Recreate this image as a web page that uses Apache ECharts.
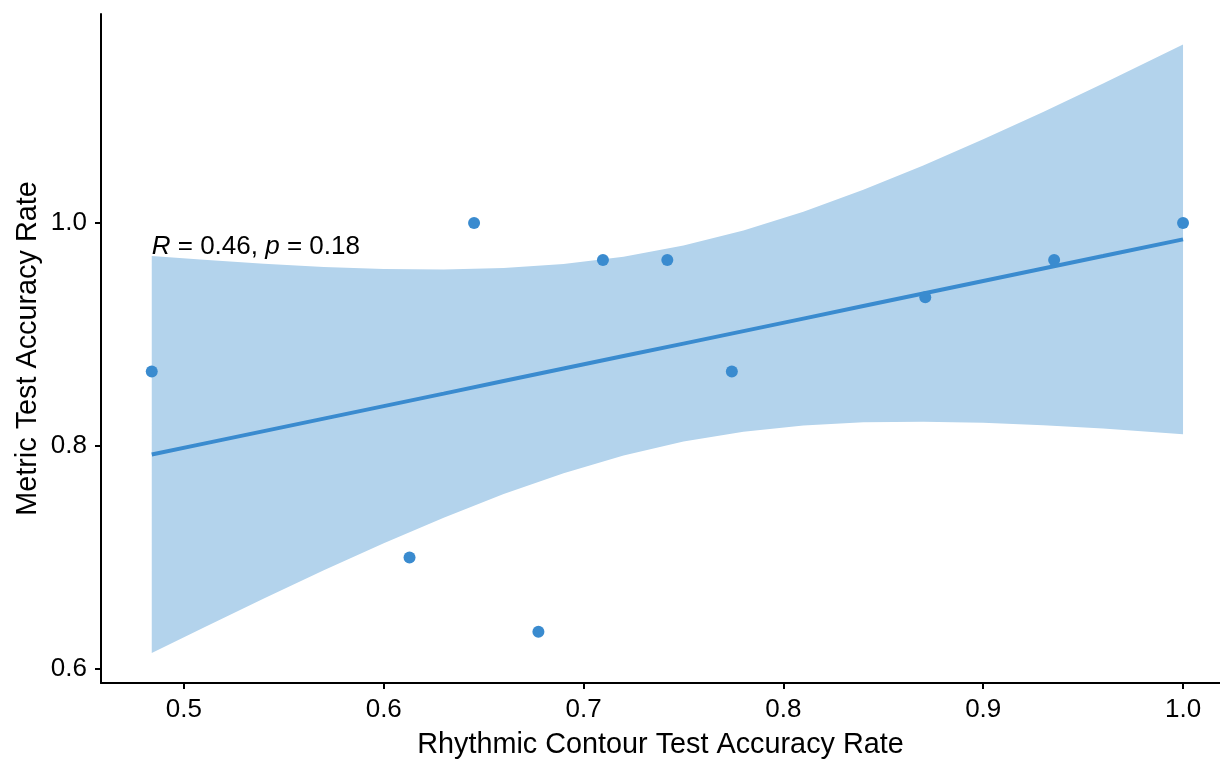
<!DOCTYPE html>
<html>
<head>
<meta charset="utf-8">
<script src="https://cdn.jsdelivr.net/npm/echarts@6/dist/echarts.min.js"></script>
<style>html,body{margin:0;padding:0;background:#fff}#chart{width:1220px;height:759px}</style>
</head>
<body>
<div id="chart"></div>
<script>
// Observed points (Rhythmic Contour vs Metric accuracy)
const pointX = [0.4839, 0.6129, 0.6452, 0.6774, 0.7097, 0.7419, 0.7742, 0.8710, 0.9355, 1.0];
const pointY = [0.8667, 0.7000, 1.0000, 0.6333, 0.9667, 0.9667, 0.8667, 0.9333, 0.9667, 1.0];
// Regression line and 95% band
const bandX  = [0.4839, 0.51, 0.54, 0.57, 0.60, 0.63, 0.66, 0.69, 0.72, 0.75, 0.78, 0.81, 0.84, 0.87, 0.90, 0.93, 0.96, 1.0];
const fitY   = [0.7923, 0.8021, 0.8133, 0.8245, 0.8357, 0.8469, 0.8582, 0.8694, 0.8806, 0.8918, 0.9030, 0.9142, 0.9255, 0.9367, 0.9479, 0.9591, 0.9703, 0.9853];
const lowerY = [0.6142, 0.6372, 0.6632, 0.6885, 0.7127, 0.7357, 0.7568, 0.7756, 0.7915, 0.8039, 0.8128, 0.8184, 0.8212, 0.8218, 0.8208, 0.8186, 0.8156, 0.8105];
const upperY = [0.9704, 0.9669, 0.9634, 0.9606, 0.9587, 0.9582, 0.9595, 0.9631, 0.9697, 0.9797, 0.9933, 1.0101, 1.0298, 1.0516, 1.0750, 1.0996, 1.1251, 1.1601];
const xTicks = [0.5, 0.6, 0.7, 0.8, 0.9, 1.0];
const yTicks = [0.6, 0.8, 1.0];
const statText = {r: '0.46', p: '0.18', x: 0.4839, y: 0.979};

const FONT = '"Liberation Sans", Arial, sans-serif';
const chart = echarts.init(document.getElementById('chart'), null, {renderer: 'canvas'});

const bandPoly = bandX.map((x, i) => [x, upperY[i]]).concat(bandX.map((x, i) => [x, lowerY[i]]).reverse());

chart.setOption({
  animation: false,
  grid: {left: 101, right: 0, top: 14, bottom: 76, containLabel: false, outerBoundsMode: 'none'},
  xAxis: {
    type: 'value', min: 0.4585, max: 1.0185,
    name: 'Rhythmic Contour Test Accuracy Rate', nameLocation: 'middle', nameGap: 48, nameMoveOverlap: false,
    nameTextStyle: {color: '#000', fontSize: 28.8, fontFamily: FONT},
    axisLine: {show: true, lineStyle: {color: '#000', width: 2}},
    axisTick: {show: true, length: 6, lineStyle: {color: '#000', width: 2}, customValues: xTicks},
    axisLabel: {color: '#000', fontSize: 26, fontFamily: FONT, margin: 14, customValues: xTicks, formatter: v => v.toFixed(1)},
    splitLine: {show: false}
  },
  yAxis: {
    type: 'value', min: 0.5874, max: 1.1874,
    name: 'Metric Test Accuracy Rate', nameLocation: 'middle', nameGap: 58, nameRotate: 90, nameMoveOverlap: false,
    nameTextStyle: {color: '#000', fontSize: 28.8, fontFamily: FONT},
    axisLine: {show: true, lineStyle: {color: '#000', width: 2}},
    axisTick: {show: true, length: 6, lineStyle: {color: '#000', width: 2}, customValues: yTicks},
    axisLabel: {color: '#000', fontSize: 26, fontFamily: FONT, margin: 14, customValues: yTicks, formatter: v => v.toFixed(1)},
    splitLine: {show: false}
  },
  series: [
    {
      type: 'custom', silent: true, z: 1,
      data: [0],
      renderItem: function (params, api) {
        const pts = bandPoly.map(p => api.coord(p));
        return {type: 'polygon', shape: {points: pts}, style: {fill: '#b3d3ec', stroke: null}};
      }
    },
    {
      type: 'line', z: 2, data: bandX.map((x, i) => [x, fitY[i]]),
      showSymbol: false, smooth: false,
      lineStyle: {color: '#3a8bcf', width: 4}
    },
    {
      type: 'scatter', z: 3, data: pointX.map((x, i) => [x, pointY[i]]),
      symbolSize: 12, itemStyle: {color: '#3a8bcf', opacity: 1}
    },
    {
      type: 'scatter', z: 4, data: [[statText.x, statText.y]], symbolSize: 0,
      itemStyle: {opacity: 1},
      label: {
        show: true, position: 'right', distance: 0,
        formatter: '{i|R} = ' + statText.r + ', {i|p} = ' + statText.p,
        color: '#000', fontSize: 26, fontFamily: FONT,
        rich: {i: {fontStyle: 'italic', fontSize: 26, fontFamily: FONT, color: '#000'}}
      }
    }
  ]
});
</script>
</body>
</html>
